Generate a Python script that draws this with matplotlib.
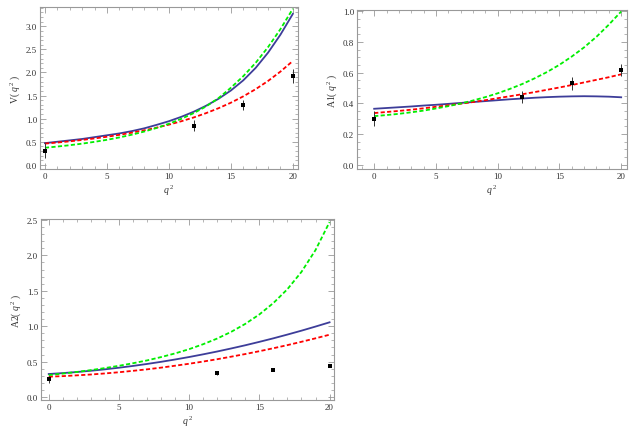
import numpy as np
import matplotlib
matplotlib.use("Agg")
import matplotlib.pyplot as plt
from matplotlib.ticker import MultipleLocator, FormatStrFormatter

plt.rcParams['font.family'] = ['Liberation Serif', 'DejaVu Serif']
plt.rcParams['mathtext.fontset'] = 'custom'
plt.rcParams['mathtext.rm'] = 'Liberation Serif'
plt.rcParams['mathtext.it'] = 'Liberation Serif:italic'

#%% data
q_grid = list(range(21))

V_blue = [0.47, 0.50, 0.53, 0.56, 0.60, 0.64, 0.68, 0.73, 0.79, 0.865, 0.945,
          1.04, 1.15, 1.28, 1.43, 1.61, 1.83, 2.10, 2.43, 2.82, 3.27]
V_red = [0.460, 0.483, 0.509, 0.539, 0.572, 0.608, 0.649, 0.696, 0.748, 0.805, 0.870,
         0.944, 1.026, 1.120, 1.226, 1.346, 1.483, 1.639, 1.817, 2.020, 2.250]
V_green = [0.370, 0.396, 0.425, 0.459, 0.498, 0.542, 0.593, 0.652, 0.720, 0.798, 0.890,
           0.996, 1.120, 1.265, 1.445, 1.670, 1.920, 2.210, 2.550, 2.940, 3.380]

A1_blue = [0.365, 0.370, 0.375, 0.380, 0.386, 0.391, 0.397, 0.403, 0.409, 0.415, 0.421,
           0.427, 0.432, 0.437, 0.441, 0.444, 0.446, 0.447, 0.446, 0.444, 0.440]
A1_red = [0.337, 0.344, 0.351, 0.359, 0.368, 0.378, 0.388, 0.398, 0.409, 0.421, 0.434,
          0.447, 0.460, 0.474, 0.489, 0.504, 0.520, 0.537, 0.554, 0.571, 0.590]
A1_green = [0.317, 0.324, 0.332, 0.342, 0.353, 0.367, 0.382, 0.399, 0.419, 0.441, 0.466,
            0.495, 0.527, 0.564, 0.605, 0.652, 0.706, 0.766, 0.835, 0.914, 1.000]

A2_blue = [0.325, 0.338, 0.353, 0.371, 0.391, 0.414, 0.439, 0.467, 0.497, 0.530, 0.565,
           0.603, 0.643, 0.686, 0.731, 0.779, 0.829, 0.882, 0.937, 0.995, 1.055]
A2_red = [0.287, 0.295, 0.306, 0.318, 0.333, 0.350, 0.370, 0.391, 0.415, 0.442, 0.470,
          0.501, 0.534, 0.570, 0.607, 0.647, 0.689, 0.733, 0.780, 0.829, 0.880]
A2_green = [0.310, 0.331, 0.354, 0.380, 0.409, 0.441, 0.477, 0.517, 0.564, 0.616, 0.676,
            0.746, 0.826, 0.921, 1.033, 1.166, 1.327, 1.523, 1.767, 2.075, 2.470]

# points with errors
q_pts = [0, 12, 16, 20]
V_pts = [0.31, 0.85, 1.29, 1.93]
V_err = [0.16, 0.12, 0.11, 0.15]
A1_pts = [0.30, 0.44, 0.53, 0.62]
A1_err = [0.05, 0.04, 0.04, 0.04]
A2_pts = [0.25, 0.34, 0.385, 0.443]
A2_err = [0.05, 0.024, 0.02, 0.024]

#%% plot
fig = plt.figure(figsize=(6.35, 4.31), dpi=100)

ax1 = fig.add_axes([0.063, 0.6056, 0.406, 0.376])
ax2 = fig.add_axes([0.562, 0.6056, 0.425, 0.369])
ax3 = fig.add_axes([0.0646, 0.0696, 0.461, 0.42])

panels = [
    (ax1, V_blue, V_red, V_green, V_pts, V_err, "V", (-0.4, 20.4), (-0.09, 3.42), 0.5, 0.1),
    (ax2, A1_blue, A1_red, A1_green, A1_pts, A1_err, "A1", (-1.4, 20.45), (-0.028, 1.01), 0.2, 0.05),
    (ax3, A2_blue, A2_red, A2_green, A2_pts, A2_err, "A2", (-0.55, 20.3), (-0.042, 2.514), 0.5, 0.1),
]

frame_col = "#999999"
text_col = "#333333"
dash = (0, (2.3, 1.3))

for ax, blue, red, green, pts, err, name, xl, yl, ymaj, ymin in panels:
    ax.plot(q_grid, blue, color="#3d3d99", lw=1.3)
    ax.plot(q_grid, red, color="#ff0000", lw=1.3, ls=dash)
    ax.plot(q_grid, green, color="#00ee00", lw=1.3, ls=dash)
    ax.errorbar(q_pts, pts, yerr=err, fmt="s", color="black", ms=2.3, mew=0,
                ecolor="#333333", elinewidth=0.7, capsize=1.8, capthick=0.6)

    ax.set_xlim(*xl)
    ax.set_ylim(*yl)
    ax.xaxis.set_major_locator(MultipleLocator(5))
    ax.xaxis.set_minor_locator(MultipleLocator(1))
    ax.yaxis.set_major_locator(MultipleLocator(ymaj))
    ax.yaxis.set_minor_locator(MultipleLocator(ymin))
    ax.yaxis.set_major_formatter(FormatStrFormatter("%.1f"))
    ax.tick_params(which="both", direction="in", top=True, right=True,
                   color=frame_col, labelsize=6.5, labelcolor=text_col, pad=2)
    ax.tick_params(which="major", length=4, width=0.6)
    ax.tick_params(which="minor", length=2, width=0.5)
    for s in ax.spines.values():
        s.set_color(frame_col)
        s.set_linewidth(0.8)

    ax.set_xlabel(r"$q^{\,2}$", fontsize=7, color=text_col, labelpad=2)
    ax.set_ylabel(name + r"( $q^{\,2}$ )", fontsize=7, color=text_col, labelpad=3)

fig.savefig("out.png", dpi=100)
